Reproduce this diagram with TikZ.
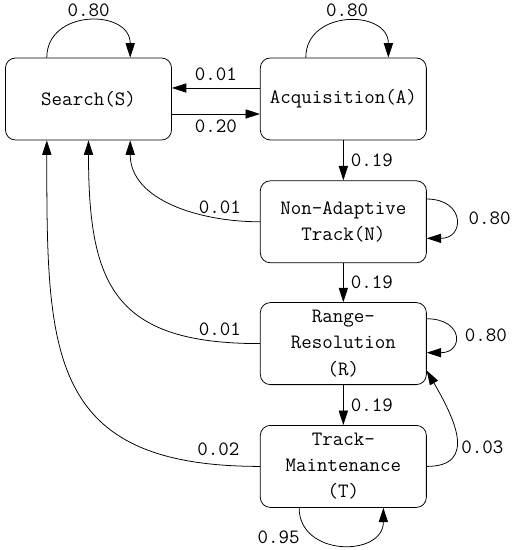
\documentclass[tikz,border=0pt]{standalone}
\usetikzlibrary{arrows.meta,calc,positioning}
\newcommand{\statefont}{\ttfamily\fontsize{14.5}{18.5}\selectfont}

\begin{document}
\begin{tikzpicture}[x=0.025cm, y=0.025cm, >={Triangle[length=3.6mm,width=2.3mm]}, line width=0.55pt,
  state/.style={draw, rounded corners=0.25cm, minimum width=4.15cm, minimum height=2.05cm, align=center, inner sep=0pt, font=\statefont},
  lab/.style={font=\statefont, inner sep=3pt}]

\useasboundingbox (0,0) rectangle (514,550);

\node[state] (S) at (88.5,451) {Search(S)};
\node[state, right=2.2cm of S] (A) {Acquisition(A)};
\node[state, below=1cm of A] (N) {Non-Adaptive\\Track(N)};
\node[state, below=0.975cm of N] (R) {Range-\\Resolution\\(R)};
\node[state, below=1cm of R] (T) {Track-\\Maintenance\\(T)};

% Uebergaenge S <-> A
\draw[->] ([yshift=0.275cm]A.west) -- node[lab, above=2pt]{0.01} ([yshift=0.275cm]S.east);
\draw[->] ([yshift=-0.375cm]S.east) -- node[lab, below=1pt]{0.20} ([yshift=-0.375cm]A.west);

% Kette nach unten
\draw[->] (A) -- node[lab, right=2pt]{0.19} (N);
\draw[->] (N) -- node[lab, right=2pt]{0.19} (R);
\draw[->] (R) -- node[lab, right=2pt]{0.19} (T);

% Ruecksprung nach S
\draw[->] (N.west) to[out=180, in=-90] node[lab, above, pos=0.22]{0.01} ($(S.south)!0.5!(S.south east)$);
\draw[->] (R.west) to[out=180, in=-90, looseness=1.4] node[lab, above=1pt, pos=0.1]{0.01} (S.south);
\draw[->] (T.west) to[out=180, in=-90, looseness=1.4] node[lab, above=3pt, pos=0.07]{0.02} ($(S.south)!0.5!(S.south west)$);
\draw[->] (T.east) to[out=0, in=-60, looseness=1.4] node[lab, right, pos=0.38]{0.03} ($(R.east)!0.65!(R.south east)$);

% Schleifen
\draw[->] ($(S.north)!0.5!(S.north west)$) to[out=90, in=90, looseness=1.5] node[lab, above]{0.80} ($(S.north)!0.5!(S.north east)$);
\draw[->] ($(A.north)!0.45!(A.north west)$) to[out=90, in=90, looseness=1.5] node[lab, above]{0.80} ($(A.north)!0.54!(A.north east)$);
\draw[->] ($(N.east)!0.55!(N.north east)$) to[out=0, in=0, looseness=2.5] node[lab, right=6pt]{0.80} ($(N.east)!0.4!(N.south east)$);
\draw[->] ($(R.east)!0.6!(R.north east)$) to[out=0, in=0, looseness=2.8] node[lab, right=4pt]{0.80} ($(R.east)!0.22!(R.south east)$);
\draw[->] ($(T.south)!0.53!(T.south west)$) to[out=-90, in=-90, looseness=1.5] node[lab, below left, pos=0.15]{0.95} ($(T.south)!0.48!(T.south east)$);

\end{tikzpicture}
\end{document}
